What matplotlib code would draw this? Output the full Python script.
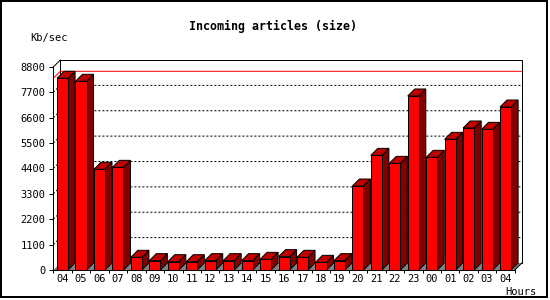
import matplotlib
matplotlib.use("Agg")
import matplotlib.pyplot as plt
from matplotlib.patches import Polygon, Rectangle

# data
hours = ['04', '05', '06', '07', '08', '09', '10', '11', '12', '13', '14', '15',
         '16', '17', '18', '19', '20', '21', '22', '23', '00', '01', '02', '03', '04']
kb_sec = [8310, 8180, 4365, 4450, 550, 405, 360, 360, 405, 405, 405, 462,
          578, 550, 332, 405, 3640, 4970, 4624, 7543, 4884, 5665, 6156, 6098, 7066]
y_ticks = [0, 1100, 2200, 3300, 4400, 5500, 6600, 7700, 8800]

FRONT = '#ff0000'
SIDE = '#800000'
TOP = '#c00000'
FLOOR = '#808080'
PX = 72 / 100  # one pixel in points

fig = plt.figure(figsize=(5.5, 3), dpi=100)
ax = fig.add_axes([53.3 / 550, 30 / 300, 461.5 / 550, 203 / 300])
n = len(hours)
xs = list(range(n))
ax.set_xlim(-0.5, n - 0.5)
ax.set_ylim(0, y_ticks[-1])

# depth of the 3d effect, 7 px, in data units
fig.canvas.draw()
p0 = ax.transData.transform((0, 0))
p1 = ax.transData.transform((1, 1000))
DX = 7 / (p1[0] - p0[0])
DY = 7 * 1000 / (p1[1] - p0[1])

x0, x1 = -0.5, n - 0.5
ymax = y_ticks[-1]

# back wall
ax.add_patch(Rectangle((x0 + DX, DY), x1 - x0, ymax, facecolor='white',
                       edgecolor='black', lw=PX, zorder=1, clip_on=False))
# top left diagonal of the left wall
ax.plot([x0, x0 + DX], [ymax, ymax + DY], color='black', lw=PX, zorder=1, clip_on=False)

# dotted grid on back wall
for v in y_ticks[1:-1]:
    ax.plot([x0, x0 + DX, x1 + DX], [v, v + DY, v + DY], color='black', lw=PX,
            dashes=(2, 2), zorder=2, clip_on=False)

# red max line
peak = max(kb_sec)
ax.plot([x0, x0 + DX, x1 + DX], [peak, peak + DY, peak + DY], color='red', lw=PX,
        zorder=2, clip_on=False)

# floor
ax.add_patch(Polygon([(x0, 0), (x1, 0), (x1 + DX, DY), (x0 + DX, DY)],
                     closed=True, facecolor=FLOOR, edgecolor='black', lw=0,
                     zorder=3, clip_on=False))
ax.plot([x1, x1 + DX], [0, DY], color='black', lw=PX, zorder=3, clip_on=False)

# bars
w = 0.6
for x, v in zip(xs, kb_sec):
    l, r = x - w / 2, x + w / 2
    ax.add_patch(Polygon([(r, 0), (r + DX, DY), (r + DX, v + DY), (r, v)],
                         closed=True, facecolor=SIDE, edgecolor='black', lw=PX,
                         zorder=4, clip_on=False))
    ax.add_patch(Polygon([(l, v), (r, v), (r + DX, v + DY), (l + DX, v + DY)],
                         closed=True, facecolor=TOP, edgecolor='black', lw=PX,
                         zorder=4, clip_on=False))
ax.bar(xs, kb_sec, width=w, color=FRONT, edgecolor='black', linewidth=PX, zorder=5)

# axes, ticks, labels
for s in ['top', 'right']:
    ax.spines[s].set_visible(False)
for s in ['left', 'bottom']:
    ax.spines[s].set_linewidth(PX)
    ax.spines[s].set_zorder(6)
ax.patch.set_visible(False)

ax.set_yticks(y_ticks)
ax.set_yticklabels([str(v) for v in y_ticks], family='DejaVu Sans Mono', fontsize=7.5)
ax.tick_params(axis='y', direction='out', length=4 * PX, width=PX, pad=4 * PX)

ax.set_xticks(xs)
ax.set_xticklabels(hours, family='DejaVu Sans Mono', fontsize=7.5)
ax.set_xticks([x - 0.5 for x in xs] + [x1], minor=True)
ax.tick_params(axis='x', which='major', length=0, pad=4 * PX)
ax.tick_params(axis='x', which='minor', direction='out', length=3 * PX, width=PX)

fig.text(273 / 550, 1 - 26 / 300, 'Incoming articles (size)', ha='center', va='center',
         family='DejaVu Sans Mono', fontweight='bold', fontsize=8.4)
fig.text(30 / 550, 1 - 37.5 / 300, 'Kb/sec', ha='left', va='center',
         family='DejaVu Sans Mono', fontsize=7.5)
fig.text(505 / 550, 1 - 292 / 300, 'Hours', ha='left', va='center',
         family='DejaVu Sans Mono', fontsize=7.5)

# outer frame
fig.patches.append(Rectangle((1 / 550, 3 / 300), 546 / 550, 296 / 300,
                             transform=fig.transFigure, fill=False,
                             edgecolor='black', lw=2 * PX))

fig.savefig('out.png', dpi=100)
